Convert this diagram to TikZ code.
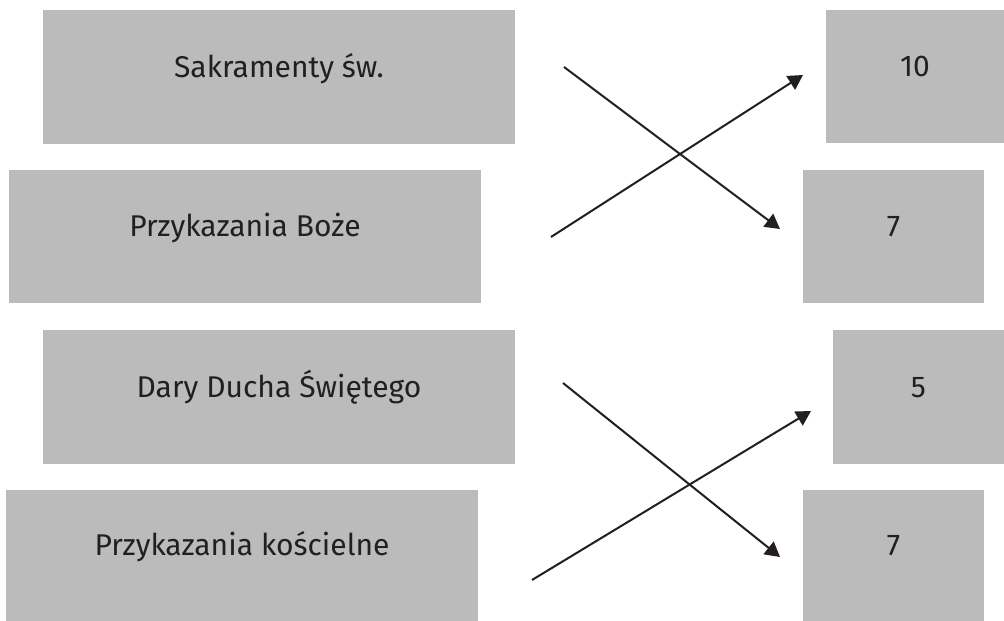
\documentclass[tikz,border=0pt]{standalone}
\usepackage{fontspec}
\setmainfont{Fira Sans}
\usepackage{xcolor}
\usepackage{tikz}
\usetikzlibrary{positioning, arrows.meta}

\definecolor{boxgray}{HTML}{BBBBBB}
\definecolor{inkdark}{HTML}{231F20}

\tikzset{
    term/.style={fill=boxgray, inner sep=0pt, text=inkdark,
        font=\fontsize{22.5}{27}\selectfont},
    link/.style={inkdark, line width=1.5pt, -{Triangle[length=11pt, width=12pt]}}
}

\begin{document}
\begin{tikzpicture}[x=0.75pt, y=-0.75pt]
    % Canvas
    \useasboundingbox[fill=white] (0,0) rectangle (1004,621);

    % Left column
    \node[term, minimum width=472*0.75pt, text height=67*0.75pt, text depth=67*0.75pt] (sakr) at (279,77) {Sakramenty św.};
    \node[term, minimum width=472*0.75pt, text height=66.5*0.75pt, text depth=66.5*0.75pt] (boze) at (245,236.5) {Przykazania Boże};
    \node[term, minimum width=472*0.75pt, text height=67*0.75pt, text depth=67*0.75pt] (dary) at (279,397) {Dary Ducha Świętego};
    \node[term, minimum width=472*0.75pt, text height=65.5*0.75pt, text depth=65.5*0.75pt] (kosc) at (242,555.5) {Przykazania kościelne};

    % Right column
    \node[term, minimum width=178*0.75pt, text height=66.5*0.75pt, text depth=66.5*0.75pt] (ten) at (915,76.5) {10};
    \node[term, minimum width=181*0.75pt, text height=66.5*0.75pt, text depth=66.5*0.75pt] (sevenA) at (893.5,236.5) {7};
    \node[term, minimum width=171*0.75pt, text height=67*0.75pt, text depth=67*0.75pt] (five) at (918.5,397) {5};
    \node[term, minimum width=181*0.75pt, text height=65.5*0.75pt, text depth=65.5*0.75pt] (sevenB) at (893.5,555.5) {7};

    % Arrow ends
    \coordinate (sakrOut) at (564,67);
    \coordinate (sevenAIn) at (780,229);
    \coordinate (bozeOut) at (551,237);
    \coordinate (tenIn) at (803,75);
    \coordinate (daryOut) at (563,383);
    \coordinate (sevenBIn) at (780,557);
    \coordinate (koscOut) at (532,580);
    \coordinate (fiveIn) at (811,411);

    % Links
    \draw[link] (sakrOut) -- (sevenAIn);
    \draw[link] (bozeOut) -- (tenIn);
    \draw[link] (daryOut) -- (sevenBIn);
    \draw[link] (koscOut) -- (fiveIn);
\end{tikzpicture}
\end{document}
